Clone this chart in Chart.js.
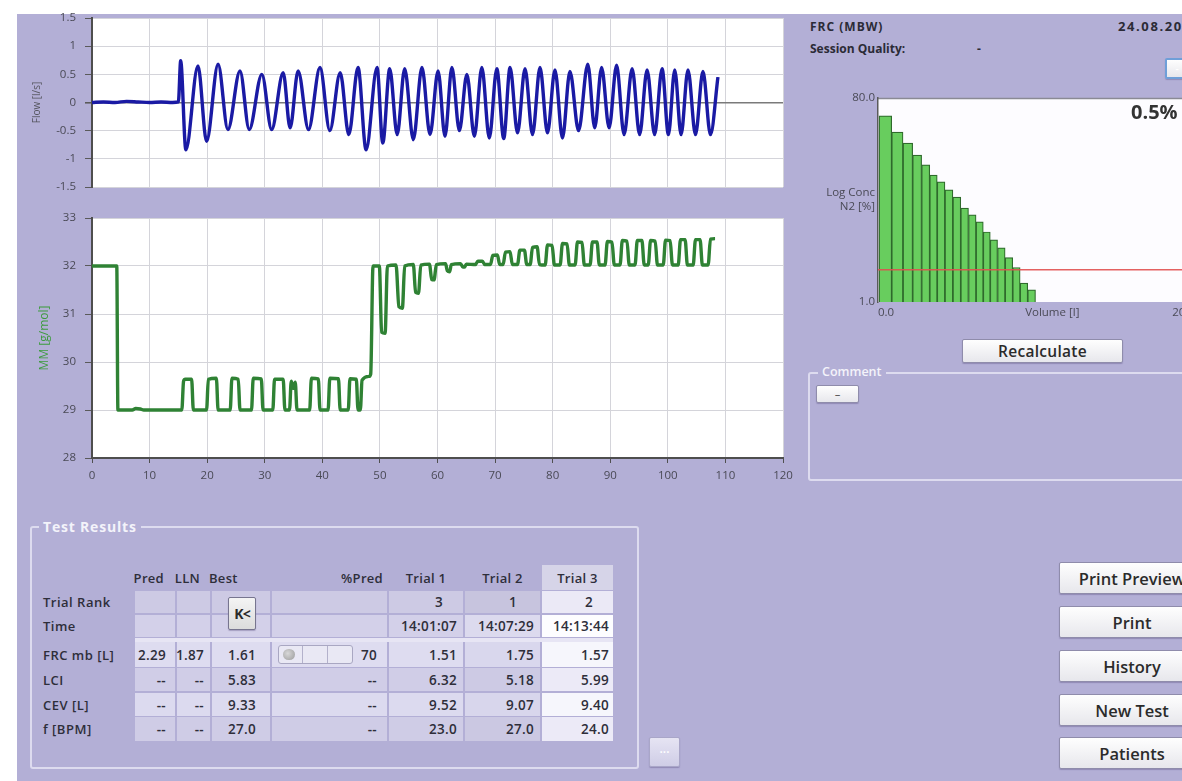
<!DOCTYPE html>
<html><head><meta charset="utf-8">
<script src="https://cdn.jsdelivr.net/npm/chart.js@4.4.1/dist/chart.umd.min.js"></script>
<style>
html,body{margin:0;padding:0;}
body{width:1182px;height:781px;overflow:hidden;background:#fff;position:relative;font-family:"Open Sans","Noto Sans",sans-serif;}
#panel{position:absolute;left:17px;top:14px;width:1165px;height:767px;background:#b3afd6;}
canvas{position:absolute;}
.txt{position:absolute;white-space:nowrap;color:#2b2b36;}
.btn{position:absolute;box-sizing:border-box;background:linear-gradient(#fefefe,#e7e7ec);border:1px solid #8f8cab;border-radius:2px;color:#2b2b2b;font-weight:600;display:flex;align-items:center;justify-content:center;box-shadow:0 1px 1px rgba(80,70,120,.35);white-space:nowrap;overflow:hidden;}
.group{position:absolute;box-sizing:border-box;border:2px solid #dddbef;border-radius:3px;}
.glabel{position:absolute;background:#b3afd6;color:#f3f3fa;font-weight:700;padding:0 4px;white-space:nowrap;}
.cell{position:absolute;box-sizing:border-box;font-size:13.5px;letter-spacing:0.3px;font-weight:600;color:#2e2e3a;display:flex;align-items:center;justify-content:flex-end;white-space:nowrap;}
</style></head>
<body>
<div id="panel"></div>

<canvas id="flow" width="780" height="203" style="left:20px;top:1px"></canvas>
<canvas id="mm" width="780" height="291" style="left:20px;top:201px"></canvas>
<canvas id="wash" width="400" height="237" style="left:800px;top:87px"></canvas>

<div class="txt" style="left:810px;top:18px;font-size:12px;font-weight:700;letter-spacing:1px">FRC (MBW)</div>
<div class="txt" style="left:1118px;top:17px;font-size:13px;font-weight:700;letter-spacing:1.6px">24.08.2016</div>
<div class="txt" style="left:810px;top:40px;font-size:12px;font-weight:700">Session Quality:</div>
<div class="txt" style="left:977px;top:40px;font-size:12px;font-weight:700">-</div>
<div class="btn" style="left:1165px;top:58px;width:24px;height:21px;border:2px solid #6f9fd8;font-size:10px;color:#fff;">-</div>
<div class="txt" style="left:1131px;top:98px;font-size:20px;font-weight:700;color:#333">0.5%</div>

<div class="btn" style="left:962px;top:339px;width:161px;height:24px;font-size:15.5px;letter-spacing:0.3px;">Recalculate</div>

<div class="group" style="left:808px;top:372px;width:390px;height:109px;"></div>
<div class="glabel" style="left:818px;top:364px;font-size:12.5px;line-height:15px;font-weight:600;">Comment</div>
<div class="btn" style="left:816px;top:385px;width:43px;height:18px;font-size:11px;line-height:8px;align-items:flex-start;">_</div>

<div class="group" style="left:30px;top:526px;width:609px;height:243px;"></div>
<div class="glabel" style="left:39px;top:518px;font-size:14px;line-height:17px;letter-spacing:0.8px;">Test Results</div>
<div id="table"></div>
<div class="btn" style="left:649px;top:737px;width:31px;height:30px;background:linear-gradient(#e6e4f3,#cfcde6);border-color:#a9a6c8;color:#fff;font-size:12px;">&middot;&middot;&middot;</div>

<div id="sidebtns"></div>

<script>
// ---------------- data ----------------
const flowTrace = [
 [0,0.0],[2,0.01],[4,0.0],[6,0.02],[8,0.01],[10,0.0],[12,0.01],[14,0.0],[15.0,0.01],
 [15.4,0.74],[16.3,-0.84],[18.4,0.65],[19.9,-0.69],[21.9,0.68],[23.6,-0.48],[25.7,0.56],[27.3,-0.48],
 [29.5,0.50],[31.2,-0.48],[33.2,0.53],[34.4,-0.45],[35.8,0.56],[37.6,-0.48],[39.6,0.62],[41.3,-0.50],
 [43.1,0.53],[44.6,-0.57],[46.2,0.62],[47.6,-0.84],[49.5,0.62],[50.5,-0.72],[51.7,0.60],[53.0,-0.57],
 [54.3,0.60],[55.8,-0.66],[57.3,0.62],[58.7,-0.57],[60.1,0.56],[61.3,-0.60],[62.5,0.62],[63.8,-0.50],
 [65.1,0.50],[66.4,-0.60],[67.7,0.62],[69.0,-0.63],[70.3,0.60],[71.5,-0.64],[72.6,0.62],[73.9,-0.54],
 [75.2,0.60],[76.5,-0.57],[77.8,0.62],[79.1,-0.54],[80.4,0.58],[81.7,-0.63],[83.0,0.55],[84.5,-0.50],
 [86.1,0.68],[87.3,-0.45],[88.5,0.62],[89.8,-0.45],[91.1,0.66],[92.4,-0.57],[93.8,0.60],[95.1,-0.57],
 [96.4,0.58],[97.7,-0.57],[99.0,0.60],[100.1,-0.57],[101.2,0.58],[102.3,-0.57],[103.5,0.58],[104.8,-0.57],
 [106.1,0.55],[107.4,-0.57],[108.7,0.45]
];
const mmTrace = [
 [0,32.0],[4.3,32.0],[4.5,29.0],[7.0,29.0],[7.6,29.03],[8.4,29.02],[9.0,29.0],[15.6,29.0],
 [15.9,29.6],[16.2,29.64],[17.3,29.64],[17.6,29.0],
 [19.9,29.0],[20.2,29.64],[21.6,29.66],[21.9,29.0],
 [24.0,29.0],[24.3,29.66],[25.4,29.64],[25.7,29.0],
 [27.7,29.0],[28.0,29.66],[29.4,29.65],[29.7,29.0],
 [31.4,29.0],[31.7,29.64],[33.2,29.64],[33.5,29.0],
 [34.3,29.0],[34.6,29.6],[35.0,29.45],[35.3,29.58],[35.6,29.0],
 [37.8,29.0],[38.1,29.66],[39.3,29.65],[39.6,29.0],
 [41.0,29.0],[41.3,29.66],[42.8,29.65],[43.1,29.0],
 [44.5,29.0],[44.8,29.65],[45.9,29.64],[46.2,29.0],
 [46.6,29.0],[46.9,29.62],[48.1,29.7],[48.4,29.75],[48.8,32.0],[49.9,32.0],
 [50.3,30.62],[50.9,30.6],[51.3,32.0],[52.8,32.02],
 [53.3,31.15],[53.9,31.12],[54.3,32.0],[55.8,32.03],
 [56.2,31.45],[56.7,31.43],[57.1,32.02],[58.6,32.04],
 [59.0,31.72],[59.4,31.71],[59.8,32.03],[61.4,32.05],
 [61.7,31.9],[62.1,31.88],[62.4,32.03],[64.0,32.05],
 [64.4,31.98],[64.7,31.98],[65.0,32.04],
 [66.6,32.03],[67.0,32.1],[67.8,32.1],[68.2,32.03],
 [69.2,32.03],[69.6,32.22],[70.4,32.23],[70.8,32.03],
 [71.4,32.03],[71.8,32.29],[72.6,32.3],[73.0,32.03],
 [73.9,32.03],[74.3,32.33],[75.1,32.33],[75.5,32.03],
 [76.1,32.03],[76.5,32.39],[77.3,32.4],[77.7,32.03],
 [78.7,32.02],[79.1,32.44],[79.9,32.43],[80.3,32.02],
 [81.3,32.02],[81.7,32.47],[82.5,32.46],[82.9,32.02],
 [83.9,32.02],[84.3,32.5],[85.1,32.49],[85.5,32.02],
 [86.5,32.02],[86.9,32.5],[87.7,32.5],[88.1,32.02],
 [89.1,32.02],[89.5,32.51],[90.3,32.5],[90.7,32.02],
 [91.7,32.02],[92.1,32.53],[92.9,32.52],[93.3,32.02],
 [94.3,32.02],[94.7,32.53],[95.5,32.53],[95.9,32.02],
 [96.6,32.02],[97.0,32.53],[97.8,32.52],[98.2,32.02],
 [99.2,32.02],[99.6,32.54],[100.4,32.53],[100.8,32.02],
 [101.8,32.02],[102.2,32.55],[103.0,32.55],[103.4,32.02],
 [104.4,32.02],[104.8,32.55],[105.6,32.55],[106.0,32.02],
 [107.0,32.02],[107.4,32.56],[108.2,32.57]
];
const washoutVolume = [0.50,1.36,2.04,2.67,3.26,3.77,4.28,4.82,5.36,5.89,6.41,6.92,7.39,7.87,8.38,8.90,9.41,9.91,10.44];
const washoutConc   = [54.4,38.5,30.4,23.5,19.0,15.3,13.2,11.1,9.5,7.5,6.5,5.6,4.5,3.8,3.2,2.6,2.1,1.5,1.3];
const washoutThreshold = 2.0;
const washoutXTicks = [0,10,20];
const washoutXLabels = ['0.0','Volume [l]','20.0'];
const washoutYTicks = [1,8.94,80];
const washoutYLabels = ['1.0',['Log Conc','N2 [%]'],'80.0'];

const rowLabels     = ['Trial Rank','Time','FRC mb [L]','LCI','CEV [L]','f [BPM]'];
const predValues    = ['','','2.29','--','--','--'];
const llnValues     = ['','','1.87','--','--','--'];
const bestValues    = ['','','1.61','5.83','9.33','27.0'];
const pctPredValues = ['','','70','--','--','--'];
const trial1Values  = ['3','14:01:07','1.51','6.32','9.52','23.0'];
const trial2Values  = ['1','14:07:29','1.75','5.18','9.07','27.0'];
const trial3Values  = ['2','14:13:44','1.57','5.99','9.40','24.0'];
const headerLabels  = ['Pred','LLN','Best','%Pred','Trial 1','Trial 2','Trial 3'];
const sideButtons   = ['Print Preview','Print','History','New Test','Patients'];

// ---------------- charts ----------------
Chart.defaults.font.family = '"Open Sans","Noto Sans",sans-serif';
const plotBg = {
  id:'plotBg',
  beforeDraw(chart, args, opts){
    const {ctx, chartArea:a} = chart;
    ctx.save(); ctx.fillStyle = opts.color || '#fff';
    ctx.fillRect(a.left, a.top, a.right-a.left, a.bottom-a.top);
    if (opts.topLine){ ctx.strokeStyle = opts.topLine; ctx.lineWidth = 1.5; ctx.beginPath(); ctx.moveTo(a.left, a.top+0.5); ctx.lineTo(a.right, a.top+0.5); ctx.stroke(); }
    ctx.restore();
  }
};
const GRID = '#d4d4da';
const TICKC = '#4a4a56';
const pts = arr => arr.map(([x,y]) => ({x,y}));
function trace(arr, dark, light, w1, w2){
  return [
    {data:pts(arr), borderColor:dark, borderWidth:w1, pointRadius:0, cubicInterpolationMode:'monotone', fill:false},
    {data:pts(arr), borderColor:light, borderWidth:w2, pointRadius:0, cubicInterpolationMode:'monotone', fill:false}
  ];
}
const common = {responsive:false, animation:false, events:[]};

new Chart(document.getElementById('flow'), {
  type:'line',
  data:{datasets: trace(flowTrace, '#1a1aa4', '#3c3cee', 3.4, 1.4)},
  options:Object.assign({}, common, {
    layout:{padding:{left:0, top:17, right:17, bottom:17}},
    plugins:{legend:{display:false}, tooltip:{enabled:false}, plotBg:{color:'#ffffff'}},
    scales:{
      x:{type:'linear', min:0, max:120, ticks:{display:false, stepSize:10}, grid:{color:GRID, drawTicks:false}, border:{display:false},
         afterFit:s=>{s.height = 0;}},
      y:{min:-1.5, max:1.5,
         ticks:{stepSize:0.5, callback:v=>String(v), color:TICKC, font:{size:11.5}, padding:9},
         grid:{color:c=>c.tick && c.tick.value===0 ? '#7a7a7a' : GRID, lineWidth:c=>c.tick && c.tick.value===0 ? 1.6 : 1, tickColor:'#5a5a5a', tickLength:7},
         border:{color:'#4e4e4e', width:2},
         title:{display:true, text:'Flow [l/s]', color:'#55555f', font:{size:10}, padding:{top:11, bottom:0}},
         afterFit:s=>{s.width = 72;}}
    }
  }),
  plugins:[plotBg]
});

new Chart(document.getElementById('mm'), {
  type:'line',
  data:{datasets: trace(mmTrace, '#2f8234', '#5fd05c', 3.4, 1.8)},
  options:Object.assign({}, common, {
    layout:{padding:{left:0, top:17, right:17, bottom:4}},
    plugins:{legend:{display:false}, tooltip:{enabled:false}, plotBg:{color:'#ffffff'}},
    scales:{
      x:{type:'linear', min:0, max:120, ticks:{stepSize:10, color:TICKC, font:{size:11.5}, padding:6, maxRotation:0},
         grid:{color:GRID, tickColor:'#505050', tickLength:5}, border:{color:'#4e4e4e', width:2},
         afterFit:s=>{s.height = 30;}},
      y:{min:28, max:33,
         ticks:{stepSize:1, color:TICKC, font:{size:11.5}, padding:9},
         grid:{color:GRID, tickColor:'#5a5a5a', tickLength:7},
         border:{color:'#4e4e4e', width:2},
         title:{display:true, text:'MM [g/mol]', color:'#3c9b3e', font:{size:12}, padding:{top:17, bottom:0}},
         afterFit:s=>{s.width = 72;}}
    }
  }),
  plugins:[plotBg]
});

new Chart(document.getElementById('wash'), {
  type:'bar',
  data:{datasets:[
    {type:'line', data:[{x:0,y:washoutThreshold},{x:21,y:washoutThreshold}], borderColor:'rgba(225,80,80,0.9)', borderWidth:1.6, pointRadius:0, order:0},
    {type:'bar', data:washoutVolume.map((x,i)=>({x, y:washoutConc[i]})), backgroundColor:'#68cd5e', borderColor:'#2f6a2c', borderWidth:1.2,
     barThickness:'flex', barPercentage:1, categoryPercentage:1, order:1}
  ]},
  options:Object.assign({}, common, {
    layout:{padding:{left:0, top:11, right:13, bottom:4}},
    plugins:{legend:{display:false}, tooltip:{enabled:false}, plotBg:{color:'#fdfcff', topLine:'#8a8a94'}},
    scales:{
      x:{type:'linear', min:0, max:21, offset:false, grid:{display:false, drawTicks:false, offset:false}, border:{display:false},
         ticks:{align:'start', autoSkip:false, maxRotation:0, color:TICKC, font:{size:11.5}, padding:4, callback:(v,i)=>washoutXLabels[i]},
         afterBuildTicks:s=>{s.ticks = washoutXTicks.map(v=>({value:v}));},
         afterFit:s=>{s.height = 18;}},
      y:{type:'logarithmic', min:1, max:80, grid:{display:false, drawTicks:false}, border:{color:'#5a5a5a', width:1.5},
         ticks:{autoSkip:false, color:TICKC, font:{size:11.5}, padding:3, callback:(v,i)=>washoutYLabels[i]},
         afterBuildTicks:s=>{s.ticks = washoutYTicks.map(v=>({value:v}));},
         afterFit:s=>{s.width = 78;}}
    }
  }),
  plugins:[plotBg]
});

// ---------------- table ----------------
const T = document.getElementById('table');
function el(cls, style, html){ const d=document.createElement('div'); d.className=cls; d.setAttribute('style',style); d.innerHTML=html; T.appendChild(d); return d; }
const cols = [{l:135,r:175,pad:9},{l:177,r:210,pad:6},{l:212,r:270,pad:14},{l:272,r:387,pad:10},{l:389,r:463,pad:6},{l:465,r:540,pad:6},{l:542,r:613,pad:4}];
const rowTop = [591,615,642,668,693,717];
const rowH = [22,22,25,23,23,24];
const rowBg = ['#cdcae4','#d3d0e9','#dedcf0','#d0cde7','#dcdaef','#cfcce6'];
const t2Bg  = ['#c7c4de','#dcdaee','#d9d7ed','#cdcae4','#d8d6ec','#cbc8e2'];
const t3Bg  = ['#ebe9f6','#fdfdff','#f6f6fc','#eceaf7','#f6f6fc','#eceaf7'];
const colValues = [predValues,llnValues,bestValues,pctPredValues,trial1Values,trial2Values,trial3Values];
el('cell', 'left:135px;top:638px;width:478px;height:4px;background:#e7e5f4;', '');
el('cell', 'left:542px;top:565px;width:71px;height:25px;background:#d6d4e8;', '');
headerLabels.forEach((h,ci)=>{
  const c = cols[ci];
  let st;
  if (ci>=4) st = `left:${c.l}px;top:568px;width:${c.r-c.l}px;height:20px;justify-content:center;`;
  else if (ci===2) st = `left:${c.l-3}px;top:568px;width:${c.r-c.l}px;height:20px;justify-content:flex-start;`;
  else st = `left:${c.l-10}px;top:568px;width:${c.r-c.l+10}px;height:20px;padding-right:${ci===3?4:(ci===1?10:11)}px;`;
  el('cell', st+'font-size:13px;', h);
});
rowLabels.forEach((lab,ri)=>{
  el('cell', `left:43px;top:${rowTop[ri]}px;height:${rowH[ri]}px;justify-content:flex-start;font-size:13px;letter-spacing:0.5px;`, lab);
  cols.forEach((c,ci)=>{
    const bg = ci===6 ? t3Bg[ri] : (ci===5 ? t2Bg[ri] : rowBg[ri]);
    const pad = (ri===0 && ci>=4) ? (ci===5?23:20) : c.pad;
    el('cell', `left:${c.l}px;top:${rowTop[ri]}px;width:${c.r-c.l}px;height:${rowH[ri]}px;background:${bg};padding-right:${pad}px;`, colValues[ci][ri]);
  });
});
el('btn', 'left:228px;top:597px;width:28px;height:33px;font-size:14px;font-weight:700;letter-spacing:-1px;background:linear-gradient(#f4f4f4,#dcdcdc);border-color:#77758f;', 'K&lt;');
el('cell', 'left:278px;top:645px;width:75px;height:19px;background:#e9e8f4;border:1px solid #a9a7c2;border-radius:3px;', '');
el('cell', 'left:302px;top:646px;width:1px;height:17px;background:#b3b1cb;', '');
el('cell', 'left:327px;top:646px;width:1px;height:17px;background:#b3b1cb;', '');
el('cell', 'left:283px;top:649px;width:12px;height:11px;border-radius:6px;background:radial-gradient(circle at 40% 40%,#d8d8d8,#9a9a9a);', '');

const SB = document.getElementById('sidebtns');
const sbTop = [562,606,650,694,737];
sideButtons.forEach((b,i)=>{
  const d=document.createElement('div'); d.className='btn';
  d.setAttribute('style',`left:1059px;top:${sbTop[i]}px;width:146px;height:32px;font-size:16.5px;`);
  d.textContent=b; SB.appendChild(d);
});
</script>
</body></html>
